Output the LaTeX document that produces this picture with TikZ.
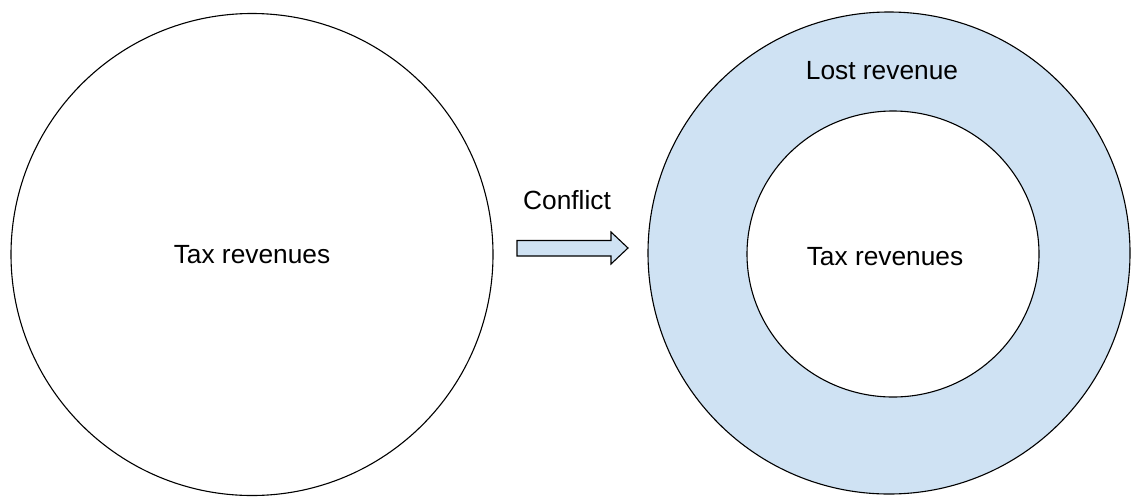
\documentclass[tikz,border=0pt]{standalone}
\usepackage{fontspec}
\setmainfont{Liberation Sans}
\definecolor{lightblue}{HTML}{CFE2F3}
\begin{document}
\begin{tikzpicture}[x=1pt,y=-1pt,
  ring/.style={draw=black,line width=1.1pt},
  lbl/.style={font=\fontsize{26.3}{30}\selectfont,inner sep=0pt}]
\useasboundingbox (0,0) rectangle (1131,496);
\draw[ring,fill=white] (252,254.5) circle (241);
\node[lbl] (left) at (252,255) {Tax revenues};
\draw[ring,fill=lightblue] (889,253) circle (241);
\draw[ring,fill=white] (893,254) ellipse [x radius=146,y radius=143];
\node[lbl] (lost) at (882,71) {Lost revenue};
\node[lbl] (right) at (885,257) {Tax revenues};
\node[lbl] (conf) at (567,200) {Conflict};
\draw[line width=1.1pt,fill=lightblue,line join=miter]
  (517,240.5) -- (611,240.5) -- (611,232) -- (628,248) -- (611,264) -- (611,256) -- (517,256) -- cycle;
\end{tikzpicture}
\end{document}
